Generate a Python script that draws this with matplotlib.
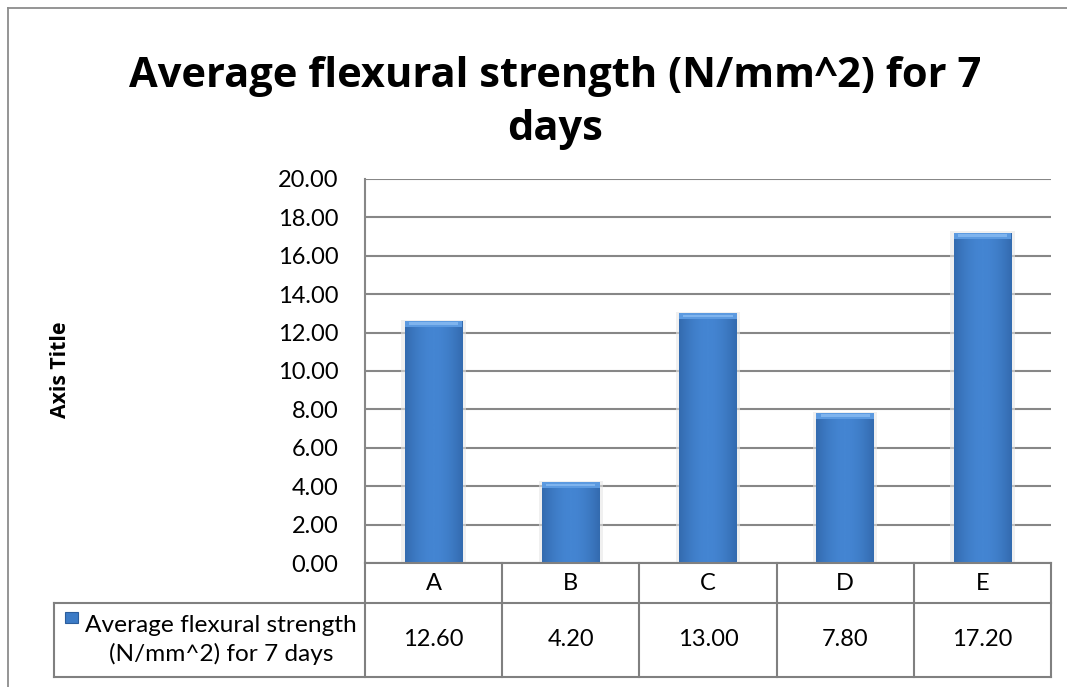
import matplotlib
matplotlib.use("Agg")
import matplotlib.pyplot as plt
import numpy as np
from matplotlib.patches import Rectangle
from matplotlib.lines import Line2D

categories = ["A", "B", "C", "D", "E"]
values = [12.60, 4.20, 13.00, 7.80, 17.20]
series_name = "Average flexural strength\n(N/mm^2) for 7 days"
title = "Average flexural strength (N/mm^2) for 7\ndays"
y_ticks = [0, 2, 4, 6, 8, 10, 12, 14, 16, 18, 20]
axis_title = "Axis Title"

plt.rcParams['font.family'] = ['Lato', 'DejaVu Sans']
bold_family = ['Open Sans', 'DejaVu Sans']

W, H = 1067, 687
fig = plt.figure(figsize=(W / 100, H / 100), dpi=100)

def fx(px):
    return px / W

def fy(py):
    return 1 - py / H

grid_c = "#878787"

# outer chart border (left and top visible)
fig.add_artist(Line2D([fx(8), fx(8)], [fy(8), 0], color="#8c8c8c", lw=1.3, transform=fig.transFigure))
fig.add_artist(Line2D([fx(8), 1], [fy(8), fy(8)], color="#8c8c8c", lw=1.3, transform=fig.transFigure))

left, right, top, bottom = 365, 1051, 179, 563
ax = fig.add_axes([fx(left), fy(bottom), fx(right - left), (bottom - top) / H])
ax.set_xlim(-0.5, len(categories) - 0.5)
ax.set_ylim(0, 20)
ax.set_yticks(y_ticks)
ax.set_yticklabels([f"{v:.2f}" for v in y_ticks], fontsize=17)
ax.tick_params(axis='y', length=0, pad=19)
ax.set_xticks([])
for s in ["top", "right", "bottom"]:
    ax.spines[s].set_visible(False)
ax.spines["left"].set_color(grid_c)
ax.spines["left"].set_linewidth(1.5)
ax.yaxis.grid(True, color=grid_c, lw=1.5)
ax.set_axisbelow(True)

x = np.arange(len(categories))
bars = ax.bar(x, values, width=0.42, color="#3c7bc6", edgecolor="none", zorder=3)

# gradient shading on bars
grad = np.linspace(0, 1, 64)
prof = 0.55 + 0.45 * np.sin(np.pi * (grad * 0.9 + 0.05))
cmap = matplotlib.colors.LinearSegmentedColormap.from_list("b", ["#2a5c9c", "#4485d2"])
for b in bars:
    bx, by, bw, bh = b.get_x(), b.get_y(), b.get_width(), b.get_height()
    # soft shadow
    ax.add_patch(Rectangle((bx - 0.025, by), bw + 0.05, bh + 0.08, facecolor="#e6e6e6",
                           edgecolor="none", alpha=0.6, zorder=2))
    im = ax.imshow(prof[None, :], cmap=cmap, vmin=0.4, vmax=1.0, aspect="auto",
                   extent=(bx, bx + bw, by, by + bh), zorder=3.5)
    im.set_clip_path(b)
    # top bevel
    ax.add_patch(Rectangle((bx, by + bh - 0.3), bw, 0.3, facecolor="#5c9ae0",
                           edgecolor="none", zorder=4))
    ax.add_patch(Rectangle((bx + 0.03, by + bh - 0.2), bw - 0.06, 0.14, facecolor="#7fb4ee",
                           edgecolor="none", zorder=4.1))
ax.set_xlim(-0.5, len(categories) - 0.5)
ax.set_ylim(0, 20)

# axis title
fig.text(fx(60), fy(370), axis_title, rotation=90, ha="center", va="center",
         fontsize=15.3, fontweight="bold", family=bold_family)

# chart title
fig.text(fx(555), fy(103), title, ha="center", va="center", fontsize=30,
         fontweight="bold", linespacing=1.38, family=bold_family)

# data table
tc = "#808080"
tlw = 1.5
row1_top, row1_bot, row2_bot = 563, 603, 677
cell_w = (right - left) / len(categories)

def hline(x0, x1, y):
    fig.add_artist(Line2D([fx(x0), fx(x1)], [fy(y), fy(y)], color=tc, lw=tlw, transform=fig.transFigure))

def vline(xp, y0, y1):
    fig.add_artist(Line2D([fx(xp), fx(xp)], [fy(y0), fy(y1)], color=tc, lw=tlw, transform=fig.transFigure))

hline(left, right, row1_top)
hline(54, right, row1_bot)
hline(54, right, row2_bot)
vline(54, row1_bot, row2_bot)
for i in range(len(categories) + 1):
    vline(left + i * cell_w, row1_top, row2_bot)

for i, (c, v) in enumerate(zip(categories, values)):
    cx = left + (i + 0.5) * cell_w
    fig.text(fx(cx), fy((row1_top + row1_bot) / 2), c, ha="center", va="center", fontsize=17)
    fig.text(fx(cx), fy((row1_bot + row2_bot) / 2), f"{v:.2f}", ha="center", va="center", fontsize=17)

# legend key cell
fig.add_artist(Rectangle((fx(65), fy(623)), fx(13), 11 / H, facecolor="#3c7bc6",
                         edgecolor="#2b5d9c", lw=0.8, transform=fig.transFigure))
l1, l2 = series_name.split("\n")
fig.text(fx(221), fy(626), l1, ha="center", va="center", fontsize=17.6)
fig.text(fx(221), fy(654), l2, ha="center", va="center", fontsize=17.6)

fig.savefig("out.png", dpi=100)
